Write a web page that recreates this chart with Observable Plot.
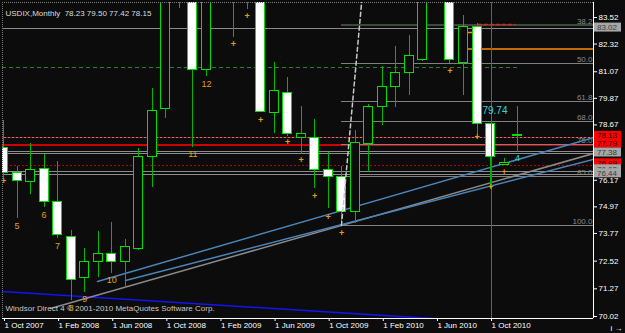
<!DOCTYPE html>
<html><head><meta charset="utf-8">
<script src="https://cdn.jsdelivr.net/npm/d3@7"></script>
<script src="https://cdn.jsdelivr.net/npm/@observablehq/plot@0.6"></script>
<style>
html,body{margin:0;padding:0;background:#0c0c0c;overflow:hidden;}
#chart svg{display:block;}
</style></head>
<body><div id="chart"></div>
<script>
// ---- data (monthly bars, index 0 = Oct 2007) ----
const months = ["Oct 2007","Nov 2007","Dec 2007","Jan 2008","Feb 2008","Mar 2008","Apr 2008","May 2008","Jun 2008","Jul 2008","Aug 2008","Sep 2008","Oct 2008","Nov 2008","Dec 2008","Jan 2009","Feb 2009","Mar 2009","Apr 2009","May 2009","Jun 2009","Jul 2009","Aug 2009","Sep 2009","Oct 2009","Nov 2009","Dec 2009","Jan 2010","Feb 2010","Mar 2010","Apr 2010","May 2010","Jun 2010","Jul 2010","Aug 2010","Sep 2010","Oct 2010","Nov 2010","Dec 2010"];
const open  = [77.65,76.52,76.11,76.66,75.21,73.59,71.78,72.50,72.82,72.46,73.09,77.20,79.37,85.90,86.80,81.16,86.20,88.40,85.40,85.60,79.20,80.13,78.10,78.08,76.64,76.30,74.76,77.83,79.46,80.37,81.03,81.60,86.50,86.00,81.47,83.11,78.69,76.88,78.23];
const high  = [78.87,76.79,77.83,77.33,77.02,73.90,73.08,73.86,74.27,73.48,77.60,80.31,87.00,88.50,87.00,86.50,89.00,89.60,86.50,86.00,81.49,80.81,79.50,78.91,77.44,76.79,78.42,79.60,81.31,82.22,82.71,88.00,89.00,86.50,83.61,83.25,78.75,77.15,79.50];
const low   = [76.16,74.44,75.53,74.94,73.54,70.74,71.10,71.78,71.97,71.28,73.00,75.84,78.96,83.93,77.65,80.85,85.20,82.60,83.88,79.23,78.28,78.15,77.33,75.80,74.90,74.13,74.22,76.52,78.64,79.45,79.99,81.55,85.40,81.43,79.99,78.19,75.80,76.85,77.42];
const close = [76.48,76.16,76.64,75.17,73.72,71.69,72.50,72.85,72.46,73.15,77.24,79.32,85.90,86.80,81.17,86.20,88.40,85.40,85.60,79.27,80.18,78.28,78.24,76.64,76.34,74.76,77.87,79.46,80.36,81.02,81.80,86.50,86.00,81.61,83.11,78.73,77.20,76.93,78.15];

const xTickIdx    = [0,4,8,12,16,20,24,28,32,36];
const xTickLabels = ["1 Oct 2007","1 Feb 2008","1 Jun 2008","1 Oct 2008","1 Feb 2009","1 Jun 2009","1 Oct 2009","1 Feb 2010","1 Jun 2010","1 Oct 2010"];
const yTicks      = [83.52,82.32,81.07,79.87,78.67,76.17,74.97,73.77,72.52,71.27,70.02];

const xDomain = [-0.074, 43.61];
const yDomain = [69.93, 84.197];

// horizontal levels across the whole chart
const levelPrices = [83.02, 78.11, 77.47, 77.37, 76.58, 76.43];
const redLevel    = [77.77];
const redDotted   = [78.11, 76.84];
const greenDashed = [81.24];

// fibonacci levels drawn from the Nov 2009 low
const fibStart  = 24.98;
const fibLabels = ["38.2","50.0","61.8","68.0","75.0","85.0","100.0"];
const fibPrices = [83.18, 81.45, 79.72, 78.81, 77.79, 76.33, 74.13];

// trend lines: [index, price] pairs
const trendA = [[6.95,71.60],[43.61,78.10]];
const trendB = [[9.02,71.645],[43.61,77.11]];
const trendC = [[3.47,70.38],[43.61,77.38]];
const blueBottom = [[-0.074,71.15],[43.61,69.47]];
const dashedUp = [[24.98,74.13],[26.5,84.4]];
const dateLine = [36.07];

// short segments near the right
const orangeSegA = [[34.07,82.10],[43.61,82.10]];
const orangeSegB = [[34.07,82.84],[35.1,82.84]];
const redDashSeg = [[35.1,83.20],[37.8,83.20]];

// annotation labels
const numText  = ["5","6","7","8","9","10","11","12"];
const numIdx   = [1,3,4,5,6,8,14,15];
const numPrice = [74.08,74.58,73.18,70.38,70.79,71.65,77.33,80.52];
const plusIdx   = [0,17,18,19,21,22,23,24,25,33,35,37,36];
const plusPrice = [76.12,82.30,83.57,78.87,77.88,77.06,75.44,74.53,73.77,81.08,78.10,76.52,75.86];
const cyanNote  = ["79.74"];
const cyanNoteIdx = [35.4];
const cyanNotePrice = [79.30];
const cyanMark  = ["4"];
const cyanMarkIdx = [38];
const cyanMarkPrice = [77.15];

// right-side price boxes
const boxPrices = [83.02,78.13,77.79,77.38,76.89,76.62,76.44];
const boxKinds  = ["gray","red","red","gray","red","gray","gray"];

const title = "USDIX,Monthly\u00a0\u00a078.23 79.50 77.42 78.15";
const copyright = "Windsor Direct 4 \u00a9 2001-2010 MetaQuotes Software Corp.";

// ---- build tables ----
const bars = months.map((m, i) => ({i, o: open[i], h: high[i], l: low[i], c: close[i]}));
const seg = (arr, id) => arr.map(([i, p]) => ({i, p, id}));
const fib = fibPrices.map((p, k) => ({p, t: fibLabels[k]}));
const nums = numText.map((t, k) => ({t, i: numIdx[k], p: numPrice[k]}));
const pluses = plusIdx.map((i, k) => ({i, p: plusPrice[k]}));
const notes = cyanNote.map((t, k) => ({t, i: cyanNoteIdx[k], p: cyanNotePrice[k]}));
const marks4 = cyanMark.map((t, k) => ({t, i: cyanMarkIdx[k], p: cyanMarkPrice[k]}));
const font = "'Liberation Sans', Arial, sans-serif";

const chart = Plot.plot({
  width: 625, height: 333,
  marginLeft: 2, marginRight: 32, marginTop: 2, marginBottom: 15,
  style: {background: "#0c0c0c", color: "#ffffff", fontFamily: font, fontSize: "8px"},
  x: {domain: xDomain, axis: null},
  y: {domain: yDomain, axis: null},
  marks: [
    // full-width levels
    Plot.ruleY(levelPrices, {stroke: "#8c8c8c", shapeRendering: "crispEdges"}),
    Plot.ruleY(redDotted, {stroke: "#c00000", strokeDasharray: "2,2", shapeRendering: "crispEdges"}),
    Plot.ruleY(redLevel, {stroke: "#d00000", strokeWidth: 2, shapeRendering: "crispEdges"}),
    Plot.ruleY(greenDashed, {x1: xDomain[0], x2: 38, stroke: "#1a8a1a", strokeDasharray: "4,3", shapeRendering: "crispEdges"}),
    // fibonacci
    Plot.ruleY(fib, {y: "p", x1: fibStart, x2: xDomain[1], stroke: d => d.t === "38.2" ? "#3c4a3c" : "#808080", strokeWidth: d => d.t === "38.2" ? 2 : 1, shapeRendering: "crispEdges"}),
    Plot.text(fib, {y: "p", text: "t", frameAnchor: "right", textAnchor: "end", dx: -1, dy: -4, fill: "#8a8a8a", fontSize: 8}),
    // short segments
    Plot.line(seg(orangeSegA, "a"), {x: "i", y: "p", stroke: "#ff8c00", clip: true}),
    Plot.line(seg(orangeSegB, "b"), {x: "i", y: "p", stroke: "#ff8c00", clip: true}),
    Plot.line(seg(redDashSeg, "r"), {x: "i", y: "p", stroke: "#e02020", strokeDasharray: "3,3", clip: true}),
    // trend lines
    Plot.line(seg(blueBottom, "bb"), {x: "i", y: "p", stroke: "#1414f0", strokeWidth: 1.6, clip: true}),
    Plot.line(seg(trendC, "c"), {x: "i", y: "p", stroke: "#8a8a8a", clip: true}),
    Plot.line(seg(trendA, "a"), {x: "i", y: "p", stroke: "#4a84b8", clip: true}),
    Plot.line(seg(trendB, "b"), {x: "i", y: "p", stroke: "#4a84b8", clip: true}),
    // candles
    Plot.ruleX(bars, {x: "i", y1: "l", y2: "h", stroke: "#00b400", clip: true, shapeRendering: "crispEdges"}),
    Plot.rect(bars, {x1: d => d.i - 0.5, x2: d => d.i + 0.5, y1: "o", y2: "c", insetLeft: 2.25, insetRight: 2.25,
      fill: d => d.c < d.o ? "#ffffff" : "#0c0c0c", stroke: "#00e000", clip: true, shapeRendering: "crispEdges"}),
    // dashed projection & date line
    Plot.line(seg(dashedUp, "d"), {x: "i", y: "p", stroke: "#c8c8c8", strokeDasharray: "4,3", clip: true}),
    Plot.ruleX(dateLine, {stroke: "#2f7a62", shapeRendering: "crispEdges"}),
    // annotations
    Plot.text(nums, {x: "i", y: "p", text: "t", fill: "#e0a010", fontSize: 9}),
    Plot.text(pluses, {x: "i", y: "p", text: () => "+", fill: "#e0a010", fontSize: 9, fontWeight: "bold"}),
    Plot.text(notes, {x: "i", y: "p", text: "t", fill: "#33d6d6", fontSize: 10, textAnchor: "start"}),
    Plot.text(marks4, {x: "i", y: "p", text: "t", fill: "#33d6d6", fontSize: 9}),
    // borders
    Plot.ruleX([xDomain[0]], {stroke: "#7a7a7a", strokeDasharray: "1,1", shapeRendering: "crispEdges"}),
    Plot.ruleY([yDomain[1]], {stroke: "#7a7a7a", strokeDasharray: "1,1", shapeRendering: "crispEdges"}),
    Plot.ruleX([xDomain[1]], {stroke: "#ffffff", shapeRendering: "crispEdges"}),
    Plot.ruleY([yDomain[0]], {stroke: "#ffffff", shapeRendering: "crispEdges"}),
    // axes
    Plot.axisX(xTickIdx, {tickFormat: d => xTickLabels[xTickIdx.indexOf(d)], textAnchor: "start", tickSize: 3, tickPadding: 1, dx: 1, fontSize: 8, fill: "#ffffff", stroke: "#ffffff"}),
    Plot.axisY(yTicks, {anchor: "right", tickFormat: d => d.toFixed(2), tickSize: 3, tickPadding: 2, fontSize: 8, fill: "#ffffff", stroke: "#ffffff"}),
    // title & copyright
    Plot.text([title], {frameAnchor: "top-left", textAnchor: "start", dx: 3, dy: 7.5, fill: "#dcdcdc", fontSize: 8}),
    Plot.text([copyright], {frameAnchor: "bottom-left", textAnchor: "start", dx: 3, dy: -7.5, fill: "#c8c8c8", fontSize: 8})
  ]
});

// price boxes on the right axis, placed with the chart's own scales
const ys = chart.scale("y");
const xr = chart.scale("x").range;
const svg = d3.select(chart);
const g = svg.append("g").attr("font-family", font).attr("font-size", 8).attr("text-anchor", "start");
boxPrices.forEach((p, k) => {
  const y = ys.apply(p) - 1;
  const red = boxKinds[k] === "red";
  g.append("rect").attr("x", xr[1] + 1).attr("y", y - 4.5).attr("width", 27).attr("height", 9)
    .attr("fill", red ? "#ff0000" : "#a6a6a6");
  g.append("text").attr("x", xr[1] + 4).attr("y", y + 3).attr("text-anchor", "start")
    .attr("fill", red ? "#2a0000" : "#3c3c3c").text(p.toFixed(2));
});

document.getElementById("chart").appendChild(chart);
</script>
</body></html>
